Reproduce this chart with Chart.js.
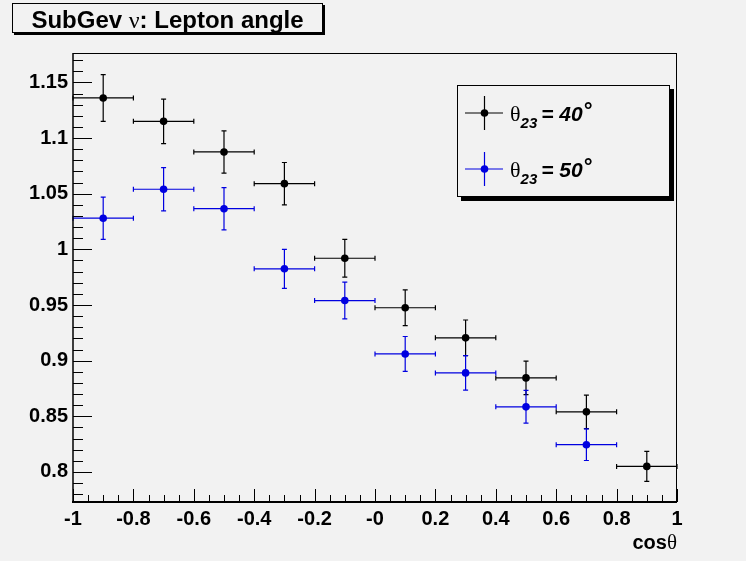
<!DOCTYPE html>
<html>
<head>
<meta charset="utf-8">
<script src="https://cdn.jsdelivr.net/npm/chart.js@4.4.0/dist/chart.umd.min.js"></script>
<style>
  html, body { margin: 0; padding: 0; background: #f2f2f2; }
  canvas { display: block; }
</style>
</head>
<body>
<canvas id="leptonAngleChart" width="746" height="561"></canvas>
<script>
const binCenters = [-0.9, -0.7, -0.5, -0.3, -0.1, 0.1, 0.3, 0.5, 0.7, 0.9];
const binHalfWidth = 0.1;
const theta40Values = [1.136, 1.115, 1.0875, 1.059, 0.992, 0.9475, 0.9205, 0.8845, 0.854, 0.805];
const theta40Errors = [0.021, 0.020, 0.019, 0.019, 0.017, 0.016, 0.016, 0.015, 0.015, 0.0135];
const theta50Values = [1.028, 1.054, 1.0365, 0.9825, 0.954, 0.906, 0.889, 0.8585, 0.8245, null];
const theta50Errors = [0.019, 0.0195, 0.019, 0.0175, 0.0165, 0.0157, 0.0155, 0.0147, 0.0142, null];
const seriesAngles = ['40', '50'];
const seriesColors = ['#000000', '#0000e0'];

const xRange = [-1, 1];
const yRange = [0.773, 1.1764];
const xMajorStep = 0.2;
const xMinorStep = 0.05;
const yMajorStep = 0.05;
const yMinorStep = 0.01;

const SANS = '"Liberation Sans", Arial, Helvetica, sans-serif';
const SERIF = '"Liberation Serif", "Times New Roman", serif';

const toPoints = (values) => binCenters
  .map((x, i) => ({ x, y: values[i] }))
  .filter((p) => p.y !== null);

const drawErrorBars = (chart, values, errors, color) => {
  const { ctx, scales: { x, y } } = chart;
  ctx.save();
  ctx.strokeStyle = color;
  ctx.lineWidth = 1.2;
  binCenters.forEach((center, i) => {
    if (values[i] === null) return;
    const px = x.getPixelForValue(center);
    const left = x.getPixelForValue(center - binHalfWidth);
    const right = x.getPixelForValue(center + binHalfWidth);
    const py = y.getPixelForValue(values[i]);
    const top = y.getPixelForValue(values[i] + errors[i]);
    const bottom = y.getPixelForValue(values[i] - errors[i]);
    ctx.beginPath();
    ctx.moveTo(left, py); ctx.lineTo(right, py);
    ctx.moveTo(left, py - 2.5); ctx.lineTo(left, py + 2.5);
    ctx.moveTo(right, py - 2.5); ctx.lineTo(right, py + 2.5);
    ctx.moveTo(px, top); ctx.lineTo(px, bottom);
    ctx.moveTo(px - 2.5, top); ctx.lineTo(px + 2.5, top);
    ctx.moveTo(px - 2.5, bottom); ctx.lineTo(px + 2.5, bottom);
    ctx.stroke();
  });
  ctx.restore();
};

// draws runs of text with different fonts one after another
const drawRuns = (ctx, runs, x, y) => {
  let cx = x;
  runs.forEach((run) => {
    ctx.font = run.font;
    ctx.fillText(run.text, cx, y + (run.dy || 0));
    cx += ctx.measureText(run.text).width + (run.gap || 0);
  });
  return cx - x;
};

const drawFrameAndTicks = (chart) => {
  const { ctx, chartArea, scales: { x, y } } = chart;
  const { left, right, top, bottom } = chartArea;
  ctx.save();
  ctx.strokeStyle = '#000';
  ctx.lineWidth = 1;
  ctx.beginPath();
  ctx.moveTo(left, top + 0.5); ctx.lineTo(right, top + 0.5);
  ctx.moveTo(right - 0.5, top); ctx.lineTo(right - 0.5, bottom);
  ctx.stroke();

  // x ticks point up into the frame
  ctx.beginPath();
  const xFrom = Math.round(xRange[0] / xMinorStep);
  const xTo = Math.round(xRange[1] / xMinorStep);
  const xRatio = Math.round(xMajorStep / xMinorStep);
  for (let n = xFrom; n <= xTo; n += 1) {
    const px = Math.round(x.getPixelForValue(n * xMinorStep)) + 0.5;
    const len = n % xRatio === 0 ? 13 : 7;
    ctx.moveTo(px, bottom); ctx.lineTo(px, bottom - len);
  }
  // y ticks point right into the frame
  const yFrom = Math.ceil(yRange[0] / yMinorStep - 1e-6);
  const yTo = Math.floor(yRange[1] / yMinorStep + 1e-6);
  const yRatio = Math.round(yMajorStep / yMinorStep);
  for (let n = yFrom; n <= yTo; n += 1) {
    const py = Math.round(y.getPixelForValue(n * yMinorStep)) + 0.5;
    const len = n % yRatio === 0 ? 19 : 10;
    ctx.moveTo(left, py); ctx.lineTo(left + len, py);
  }
  ctx.stroke();

  ctx.lineWidth = 2;
  ctx.beginPath();
  ctx.moveTo(left - 1, bottom); ctx.lineTo(right, bottom);
  ctx.stroke();
  ctx.lineWidth = 1.5;
  ctx.beginPath();
  ctx.moveTo(left, top); ctx.lineTo(left, bottom);
  ctx.stroke();
  ctx.restore();
};

const drawTitleBox = (ctx) => {
  ctx.save();
  ctx.fillStyle = '#000';
  ctx.fillRect(14, 5, 311, 30);
  ctx.fillStyle = '#f2f2f2';
  ctx.fillRect(13, 4, 309, 28);
  ctx.strokeStyle = '#000';
  ctx.lineWidth = 1;
  ctx.strokeRect(12.5, 3.5, 310, 29);
  ctx.fillStyle = '#000';
  ctx.textBaseline = 'alphabetic';
  const runs = [
    { text: 'SubGev ', font: `bold 24px ${SANS}` },
    { text: 'ν', font: `24px ${SERIF}` },
    { text: ': Lepton angle', font: `bold 24px ${SANS}` },
  ];
  let total = 0;
  runs.forEach((run) => {
    ctx.font = run.font;
    total += ctx.measureText(run.text).width;
  });
  drawRuns(ctx, runs, 167.5 - total / 2, 28);
  ctx.restore();
};

const drawLegend = (ctx) => {
  ctx.save();
  ctx.fillStyle = '#000';
  ctx.fillRect(461, 89, 213, 112);
  ctx.fillStyle = '#f2f2f2';
  ctx.fillRect(457, 85, 213, 112);
  ctx.strokeStyle = '#000';
  ctx.lineWidth = 1;
  ctx.strokeRect(457.5, 85.5, 212, 111);
  const rows = [113, 169];
  seriesAngles.forEach((angle, i) => {
    const cy = rows[i];
    ctx.strokeStyle = seriesColors[i];
    ctx.lineWidth = 1.2;
    ctx.beginPath();
    ctx.moveTo(465, cy); ctx.lineTo(503, cy);
    ctx.moveTo(484.5, cy - 17); ctx.lineTo(484.5, cy + 17);
    ctx.stroke();
    ctx.fillStyle = seriesColors[i];
    ctx.beginPath();
    ctx.arc(484.5, cy, 3.8, 0, Math.PI * 2);
    ctx.fill();
    ctx.fillStyle = '#000';
    drawRuns(ctx, [
      { text: 'θ', font: `22px ${SERIF}` },
      { text: '23', font: `italic bold 15px ${SANS}`, dy: 7, gap: 4 },
      { text: '= ' + angle, font: `italic bold 21px ${SANS}` },
      { text: '°', font: `italic bold 22px ${SANS}`, dy: -3 },
    ], 510, cy + 8);
  });
  ctx.restore();
};

const drawAxisTitle = (chart) => {
  const { ctx, chartArea } = chart;
  ctx.save();
  ctx.fillStyle = '#000';
  const runs = [
    { text: 'cos', font: `bold 20px ${SANS}` },
    { text: 'θ', font: `21px ${SERIF}` },
  ];
  let total = 0;
  runs.forEach((run) => {
    ctx.font = run.font;
    total += ctx.measureText(run.text).width;
  });
  drawRuns(ctx, runs, chartArea.right - total, 549);
  ctx.restore();
};

const rootStylePlugin = {
  id: 'rootStyle',
  beforeDraw: (chart) => {
    const { ctx, width, height } = chart;
    ctx.save();
    ctx.fillStyle = '#f2f2f2';
    ctx.fillRect(0, 0, width, height);
    ctx.restore();
  },
  beforeDatasetsDraw: (chart) => {
    drawErrorBars(chart, theta40Values, theta40Errors, seriesColors[0]);
    drawErrorBars(chart, theta50Values, theta50Errors, seriesColors[1]);
  },
  afterDraw: (chart) => {
    drawFrameAndTicks(chart);
    drawTitleBox(chart.ctx);
    drawLegend(chart.ctx);
    drawAxisTitle(chart);
  },
};

const tickFont = { family: SANS, size: 20, weight: 'bold' };

const ctx = document.getElementById('leptonAngleChart').getContext('2d');
// eslint-disable-next-line no-undef, no-unused-vars
const chart = new Chart(ctx, {
  type: 'scatter',
  data: {
    datasets: [
      {
        label: 'θ23 = 40°',
        data: toPoints(theta40Values),
        backgroundColor: seriesColors[0],
        borderWidth: 0,
        pointRadius: 3.8,
        pointHoverRadius: 3.8,
      },
      {
        label: 'θ23 = 50°',
        data: toPoints(theta50Values),
        backgroundColor: seriesColors[1],
        borderWidth: 0,
        pointRadius: 3.8,
        pointHoverRadius: 3.8,
      },
    ],
  },
  options: {
    responsive: false,
    animation: false,
    events: [],
    layout: { padding: { left: 0, top: 53, right: 69, bottom: 0 } },
    plugins: {
      legend: { display: false },
      title: { display: false },
      tooltip: { enabled: false },
    },
    scales: {
      x: {
        type: 'linear',
        min: xRange[0],
        max: xRange[1],
        afterFit: (scale) => { scale.height = 59; },
        grid: { display: false, drawTicks: false },
        border: { display: false },
        ticks: {
          stepSize: xMajorStep,
          autoSkip: false,
          maxRotation: 0,
          padding: 5,
          color: '#000',
          font: tickFont,
          callback: (value) => (Math.abs(value) < 1e-9 ? '-0' : String(parseFloat(value.toFixed(1)))),
        },
      },
      y: {
        type: 'linear',
        min: yRange[0],
        max: yRange[1],
        afterFit: (scale) => { scale.width = 73; },
        grid: { display: false, drawTicks: false },
        border: { display: false },
        ticks: {
          stepSize: yMajorStep,
          includeBounds: false,
          autoSkip: false,
          padding: 5,
          color: '#000',
          font: tickFont,
          callback: (value) => String(parseFloat(value.toFixed(2))),
        },
      },
    },
  },
  plugins: [rootStylePlugin],
});
</script>
</body>
</html>
